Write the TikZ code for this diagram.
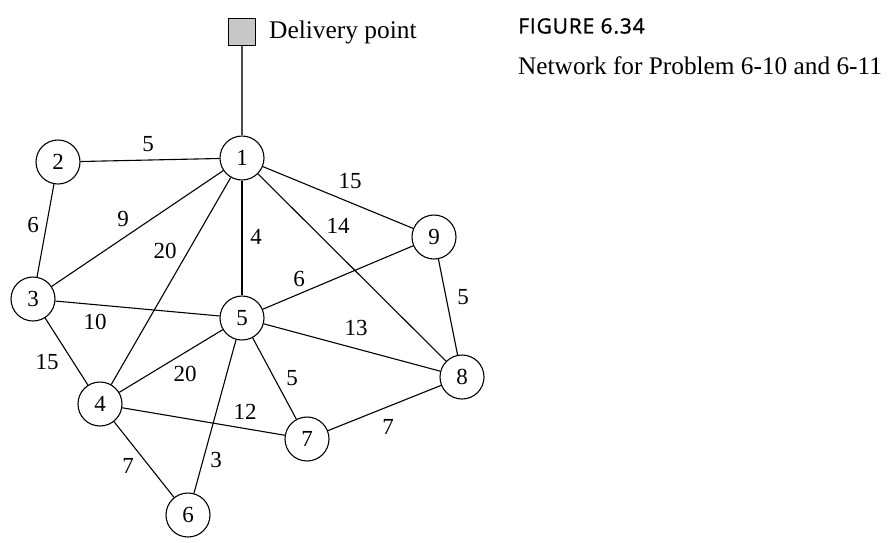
\documentclass[tikz,border=0pt]{standalone}
\usepackage{fontspec}
\setmainfont{Liberation Serif}
\newfontfamily\figsans[LetterSpace=4,FakeBold=1.2]{Open Sans}
\begin{document}
\begin{tikzpicture}[x=1pt,y=-1pt,
  vtx/.style={circle,draw,line width=1.1pt,minimum size=44pt,inner sep=0pt,font=\fontsize{23}{25}\selectfont},
  edge/.style={line width=1.1pt},
  wlab/.style={font=\fontsize{23}{25}\selectfont,inner sep=0pt},
  depot/.style={draw,line width=1.6pt,fill=black!22,minimum size=27pt,inner sep=0pt}]
\useasboundingbox (0,0) rectangle (892,542);
\node[depot] (d) at (242,32) {};
\node[anchor=west,inner sep=0pt,font=\fontsize{25.4}{27}\selectfont] (dl) at (269,32) {Delivery point};
\node[anchor=west,inner sep=0pt,font=\figsans\fontsize{21}{24}\selectfont] (fig) at (518,26) {FIGURE 6.34};
\node[anchor=west,inner sep=0pt,font=\fontsize{25.3}{27}\selectfont] (cap) at (518,66) {Network for Problem 6-10 and 6-11};
\node[vtx] (n1) at (242,158) {1};
\node[vtx] (n2) at (58,162) {2};
\node[vtx] (n3) at (33,299) {3};
\node[vtx] (n4) at (100,404) {4};
\node[vtx] (n5) at (242,318) {5};
\node[vtx] (n6) at (188,515) {6};
\node[vtx] (n7) at (307,439) {7};
\node[vtx] (n8) at (462,377) {8};
\node[vtx] (n9) at (434,237) {9};
\draw[edge,black!70] (d) -- (n1);
\draw[edge] (n2) -- (n1);
\draw[edge] (n2) -- (n3);
\draw[edge] (n3) -- (n1);
\draw[edge] (n4) -- (n1);
\draw[edge] (n5) -- (n1);
\draw[edge] (n9) -- (n1);
\draw[edge] (n8) -- (n1);
\draw[edge] (n5) -- (n9);
\draw[edge] (n8) -- (n9);
\draw[edge] (n3) -- (n5);
\draw[edge] (n5) -- (n8);
\draw[edge] (n3) -- (n4);
\draw[edge] (n4) -- (n5);
\draw[edge] (n5) -- (n7);
\draw[edge] (n4) -- (n7);
\draw[edge] (n7) -- (n8);
\draw[edge] (n4) -- (n6);
\draw[edge] (n5) -- (n6);
\node[wlab] (w21) at (148,144) {5};
\node[wlab] (w23) at (33,225) {6};
\node[wlab] (w13) at (123,219) {9};
\node[wlab] (w14) at (165,251) {20};
\node[wlab] (w15) at (256,237) {4};
\node[wlab] (w19) at (350,181) {15};
\node[wlab] (w18) at (338,226) {14};
\node[wlab] (w59) at (299,279) {6};
\node[wlab] (w98) at (463,297) {5};
\node[wlab] (w35) at (95,322) {10};
\node[wlab] (w58) at (356,328) {13};
\node[wlab] (w34) at (47,362) {15};
\node[wlab] (w45) at (185,374) {20};
\node[wlab] (w57) at (292,378) {5};
\node[wlab] (w47) at (245,412) {12};
\node[wlab] (w78) at (388,427) {7};
\node[wlab] (w46) at (128,466) {7};
\node[wlab] (w56) at (216,460) {3};
\end{tikzpicture}
\end{document}
